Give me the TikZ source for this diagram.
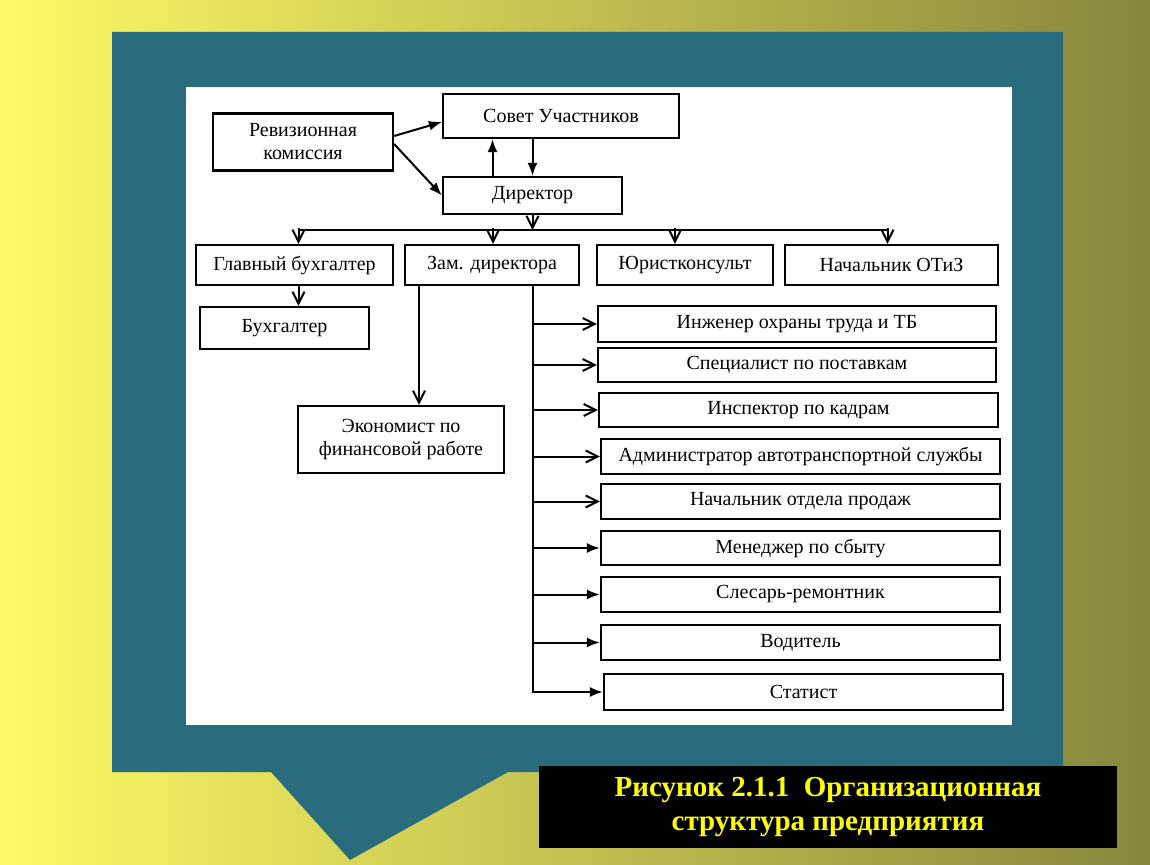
\documentclass[tikz,border=0pt]{standalone}
\usepackage{fontspec}
\setmainfont{Liberation Serif}
\usetikzlibrary{arrows.meta,calc,positioning}
\definecolor{bgyellow}{RGB}{252,250,100}
\definecolor{bgolive}{RGB}{136,134,60}
\definecolor{slideteal}{RGB}{41,108,126}
\definecolor{captionyellow}{RGB}{255,255,0}
\tikzset{
  unit/.style={draw=black, fill=white, line width=2.2pt, inner sep=2pt,
    align=center, font=\fontsize{20}{23}\selectfont},
  solidlink/.style={black, line width=2pt, -{Latex[length=13pt,width=10pt]}},
  openlink/.style={black, line width=2pt,
    -{Straight Barb[length=12pt,width=12pt,line width=2pt]}},
  caption/.style={fill=black, text=captionyellow, align=center,
    font=\fontsize{29}{34}\selectfont\bfseries}
}

\begin{document}
\begin{tikzpicture}[x=1pt,y=-1pt]
  % Slide background and callout frame
  \shade[left color=bgyellow,right color=bgolive] (0,0) rectangle (1150,864);
  \useasboundingbox (0,0) rectangle (1150,864);
  \fill[slideteal] (112,32) -- (1063,32) -- (1063,772) -- (508,772)
    -- (350,860) -- (271,772) -- (112,772) -- cycle;
  \fill[white] (186,87) rectangle (1012,725);

  % Top management
  \node[unit,minimum width=180pt,minimum height=57pt] (rev) at (303,142)
    {Ревизионная\\комиссия};
  \node[unit,minimum width=236pt,minimum height=44pt] (council) at (561,116)
    {Совет Участников};
  \node[unit,minimum width=179pt,minimum height=37pt] (director) at (532.5,195.5)
    {Директор};

  % Second level
  \node[unit,minimum width=197pt,minimum height=40pt] (chief) at (294.5,265)
    {Главный бухгалтер};
  \node[unit,minimum width=174pt,minimum height=40pt] (deputy) at (492,265)
    {Зам. директора};
  \node[unit,minimum width=176pt,minimum height=40pt] (lawyer) at (685,265)
    {Юристконсульт};
  \node[unit,minimum width=213pt,minimum height=40pt] (otiz) at (891.5,265)
    {Начальник ОТиЗ};
  \node[unit,minimum width=169pt,minimum height=42pt] (accountant) at (284.5,328)
    {Бухгалтер};
  \node[unit,minimum width=206pt,minimum height=67pt] (economist) at (401,439.5)
    {Экономист по\\финансовой работе};

  % Staff under the deputy director
  \node[unit,minimum width=398pt,minimum height=36pt] (safety) at (797,324)
    {Инженер охраны труда и ТБ};
  \node[unit,minimum width=398pt,minimum height=34pt] (supply) at (797,365)
    {Специалист по поставкам};
  \node[unit,minimum width=399pt,minimum height=34pt] (personnel) at (798.5,410)
    {Инспектор по кадрам};
  \node[unit,minimum width=399pt,minimum height=35pt] (transport) at (800.5,456.5)
    {Администратор автотранспортной службы};
  \node[unit,minimum width=399pt,minimum height=35pt] (sales) at (800.5,501.5)
    {Начальник отдела продаж};
  \node[unit,minimum width=399pt,minimum height=34pt] (manager) at (800.5,548)
    {Менеджер по сбыту};
  \node[unit,minimum width=399pt,minimum height=35pt] (fitter) at (800.5,594.5)
    {Слесарь-ремонтник};
  \node[unit,minimum width=399pt,minimum height=35pt] (driver) at (800.5,642.5)
    {Водитель};
  \node[unit,minimum width=399pt,minimum height=36pt] (statist) at (803.5,692)
    {Статист};

  % Links between management boxes
  \draw[solidlink] ($(rev.east)+(0,-6)$) -- ($(council.west)+(0,6)$);
  \draw[solidlink] ($(rev.east)+(0,2)$) -- (director.west);
  \coordinate (upline) at ($(director.north)+(-40,0)$);
  \draw[solidlink] (upline) -- (upline |- council.south);
  \draw[solidlink] (director.north |- council.south) -- (director.north);

  % Bus under the director
  \coordinate (busjoin) at ($(director.south)+(0,15)$);
  \draw[openlink] (director.south) -- (busjoin);
  \draw[black,line width=2pt] ($(chief.north |- busjoin)+(4,0)$)
    -- ($(otiz.north |- busjoin)+(-4,0)$);
  \foreach \t/\dx in {chief/4,deputy/1,lawyer/-10,otiz/-4}{
    \draw[openlink] ($(\t.north)+(\dx,-16)$) -- ($(\t.north)+(\dx,0)$);
  }
  \coordinate (bookline) at ($(accountant.north)+(14,0)$);
  \draw[openlink] (bookline |- chief.south) -- (bookline);
  \coordinate (ecoline) at ($(economist.north)+(18,0)$);
  \draw[openlink] (ecoline |- deputy.south) -- (ecoline);

  % Trunk to the staff list
  \coordinate (trunk) at ($(deputy.south east)+(-47,0)$);
  \draw[solidlink] (trunk) |- (statist.west);
  \foreach \n in {safety,supply,personnel,transport,sales}{
    \draw[openlink] (trunk |- \n.west) -- (\n.west);
  }
  \foreach \n in {manager,fitter,driver}{
    \draw[solidlink] (trunk |- \n.west) -- (\n.west);
  }

  % Caption
  \node[caption,minimum width=578pt,minimum height=82pt] (fig) at (828,807)
    {Рисунок 2.1.1\ \ Организационная\\структура предприятия};
\end{tikzpicture}
\end{document}
